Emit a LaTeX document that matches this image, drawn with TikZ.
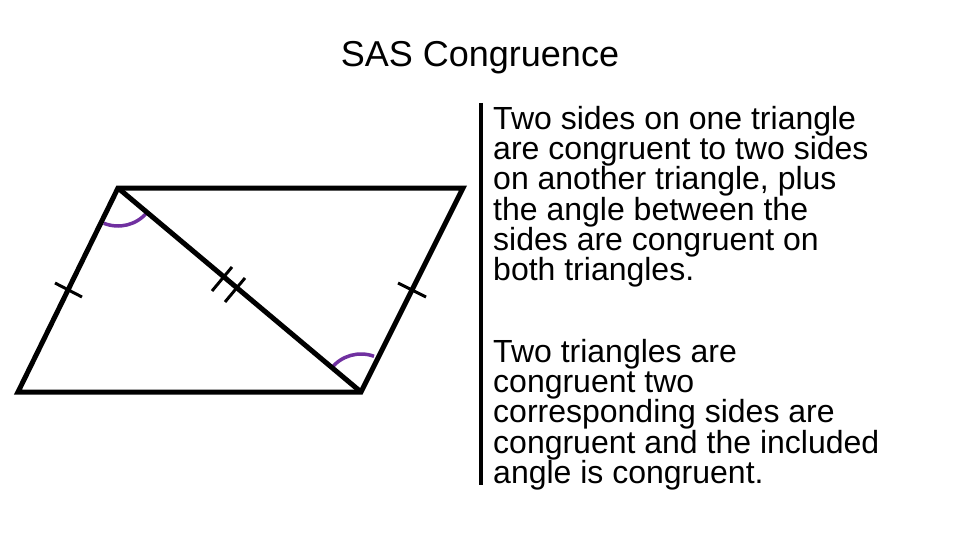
\documentclass[tikz,border=0pt]{standalone}
\usepackage{fontspec}
\setmainfont{Liberation Sans}
\begin{document}
\begin{tikzpicture}[x=1pt,y=-1pt,
  edge/.style={line width=5pt},
  tick/.style={line width=3pt},
  arcmark/.style={line width=3.5pt,color={rgb,255:red,112;green,48;blue,160}},
  body/.style={font=\fontsize{32}{30.3}\selectfont,align=left,anchor=north west,inner sep=0pt}]
\useasboundingbox (0,0) rectangle (960,540);
\coordinate (A) at (118,188);
\coordinate (B) at (463,188);
\coordinate (C) at (361,392);
\coordinate (D) at (18,392);
\draw[arcmark] (A) ++(40:38) arc[start angle=40,end angle=112,radius=38];
\draw[arcmark] (C) ++(218:38) arc[start angle=218,end angle=290,radius=38];
\draw[edge,line join=miter] (A) -- (B) -- (C) -- (D) -- cycle;
\draw[edge] (A) -- (C);
\draw[tick] (55,283) -- (82,297);
\draw[tick] (398,283) -- (426,297);
\draw[tick] (212,291) -- (232,267);
\draw[tick] (225,302) -- (245,278);
\node[font=\fontsize{36}{40}\selectfont,inner sep=0pt] (title) at (480,58) {SAS Congruence};
\draw[line width=4pt] (481,103) -- (481,485) coordinate (lineend);
\node[body] (t1) at (493,106) {Two sides on one triangle\\are congruent to two sides\\on another triangle, plus\\the angle between the\\sides are congruent on\\both triangles.};
\node[body] (t2) at (493,339) {Two triangles are\\congruent two\\corresponding sides are\\congruent and the included\\angle is congruent.};
\end{tikzpicture}
\end{document}
